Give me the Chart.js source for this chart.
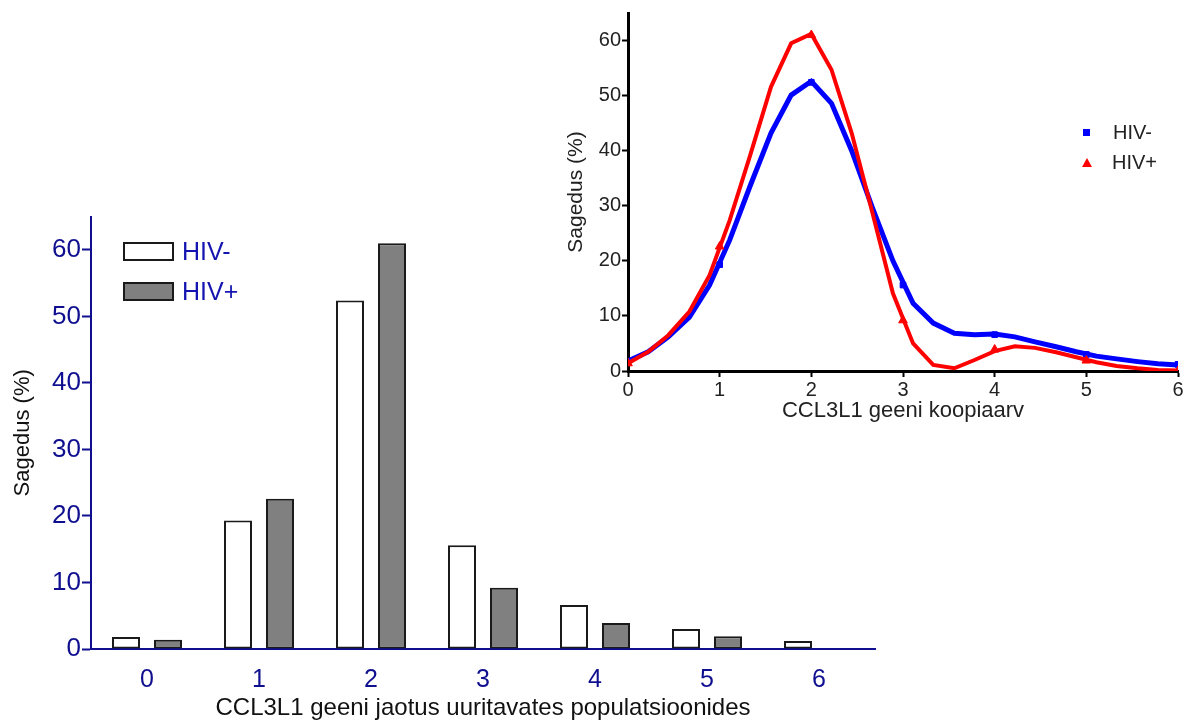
<!DOCTYPE html>
<html lang="et">
<head>
  <meta charset="UTF-8">
  <title>CCL3L1 geeni koopiaarv</title>
  <script src="https://cdn.jsdelivr.net/npm/chart.js"></script>
  <style>
    body { margin: 0; width: 1185px; height: 722px; background: #fff; position: relative; overflow: hidden;
           font-family: 'Liberation Sans', Arial, sans-serif; }
    .box { position: absolute; }
    #barBox { left: 0; top: 200px; width: 900px; height: 522px; }
    #lineBox { left: 540px; top: 0; width: 645px; height: 430px; }
    .leg { position: absolute; display: flex; align-items: center; }
    .barLeg .swatch { width: 47px; height: 15px; border: 2px solid #1a1a1a; margin-right: 8px; }
    .barLeg span { font-size: 25px; color: #1414b0; line-height: 1; }
    .lineLeg span { font-size: 20px; color: #222; line-height: 1; }
    .sq { width: 7px; height: 7px; margin-right: 23px; }
    .tri { width: 0; height: 0; border-left: 5px solid transparent; border-right: 5px solid transparent;
           border-bottom: 9px solid #ff0000; margin-right: 20px; }
  </style>
</head>
<body>
  <div class="box" id="barBox"><canvas id="barChart"></canvas></div>
  <div class="box" id="lineBox"><canvas id="lineChart"></canvas></div>
  <div class="leg barLeg" style="left:123px; top:239px;"><div class="swatch" style="background:#ffffff"></div><span id="lb0"></span></div>
  <div class="leg barLeg" style="left:123px; top:279px;"><div class="swatch" style="background:#808080"></div><span id="lb1"></span></div>
  <div class="leg lineLeg" style="left:1083px; top:123px; height:18px;"><div class="sq" style="background:#0000ff"></div><span id="ll0"></span></div>
  <div class="leg lineLeg" style="left:1082px; top:153px; height:18px;"><div class="tri"></div><span id="ll1"></span></div>

  <script>
    // main chart: distribution in studied populations
    const categories = ['0', '1', '2', '3', '4', '5', '6'];
    const seriesNames = ['HIV-', 'HIV+'];
    const hivNeg = [1.8, 19.3, 52.4, 15.6, 6.6, 3.0, 1.2];
    const hivPos = [1.4, 22.6, 61.0, 9.2, 3.9, 1.9, 0];

    // inset: smoothed curves
    const copyNumbers = [0, 1, 2, 3, 4, 5, 6];
    const curveX = [0, 0.22, 0.44, 0.67, 0.89, 1.11, 1.33, 1.56, 1.78, 2.0, 2.22, 2.44, 2.67, 2.89,
                    3.11, 3.33, 3.56, 3.78, 4.0, 4.22, 4.44, 4.67, 4.89, 5.11, 5.33, 5.56, 5.78, 6.0];
    const curveNeg = [1.8, 3.5, 6.2, 9.8, 15.6, 23.8, 33.5, 43.2, 50.1, 52.6, 48.6, 40.0, 29.5, 20.0,
                      12.3, 8.7, 6.85, 6.6, 6.7, 6.2, 5.3, 4.4, 3.5, 2.7, 2.2, 1.7, 1.3, 1.1];
    const curvePos = [1.4, 3.5, 6.5, 10.8, 17.4, 27.4, 39.0, 51.6, 59.5, 61.2, 54.7, 43.2, 28.5, 14.1,
                      5.0, 1.1, 0.5, 2.0, 3.6, 4.5, 4.2, 3.4, 2.5, 1.6, 0.9, 0.5, 0.2, 0.1];

    const navy = '#0f0f8f';
    const fontFam = "'Liberation Sans', Arial, sans-serif";

    document.getElementById('lb0').textContent = seriesNames[0];
    document.getElementById('lb1').textContent = seriesNames[1];
    document.getElementById('ll0').textContent = seriesNames[0];
    document.getElementById('ll1').textContent = seriesNames[1];

    new Chart(document.getElementById('barChart'), {
      type: 'bar',
      data: {
        labels: categories,
        datasets: [
          { label: seriesNames[0], data: hivNeg, backgroundColor: '#ffffff', borderColor: '#1a1a1a',
            borderWidth: 2, borderSkipped: false, categoryPercentage: 0.75, barPercentage: 0.667 },
          { label: seriesNames[1], data: hivPos, backgroundColor: '#808080', borderColor: '#1a1a1a',
            borderWidth: 2, borderSkipped: false, categoryPercentage: 0.75, barPercentage: 0.667 }
        ]
      },
      options: {
        responsive: true,
        maintainAspectRatio: false,
        animation: false,
        layout: { padding: { top: 15, right: 25, left: 0, bottom: 0 } },
        plugins: { legend: { display: false }, tooltip: { enabled: false } },
        scales: {
          x: {
            grid: { display: false },
            border: { color: navy, width: 2 },
            ticks: { color: navy, font: { family: fontFam, size: 25 }, padding: 8 },
            title: { display: true, text: 'CCL3L1 geeni jaotus uuritavates populatsioonides',
                     color: '#111', font: { family: fontFam, size: 24 }, padding: { top: 0, bottom: -1 } },
            afterFit: s => { s.height = 73; }
          },
          y: {
            min: 0, max: 65,
            grid: { drawOnChartArea: false, drawTicks: true, tickLength: 9, tickColor: navy, tickWidth: 2 },
            border: { color: navy, width: 2 },
            ticks: { stepSize: 10, includeBounds: false, color: navy, font: { family: fontFam, size: 26 }, padding: 1 },
            title: { display: true, text: 'Sagedus (%)', color: '#111', font: { family: fontFam, size: 22 },
                     padding: { top: 10, bottom: 0 } },
            afterFit: s => { s.width = 91; }
          }
        }
      }
    });

    const curvePts = (xs, ys) => xs.map((x, i) => ({ x: x, y: ys[i] }));
    const markPts = ys => copyNumbers.map((x, i) => ({ x: x, y: ys[i] }));

    new Chart(document.getElementById('lineChart'), {
      type: 'line',
      data: {
        datasets: [
          { label: seriesNames[1], data: markPts(hivPos), showLine: false, pointStyle: 'triangle',
            pointRadius: 5, backgroundColor: '#ff0000', borderColor: '#ff0000', borderWidth: 1 },
          { label: seriesNames[1], data: curvePts(curveX, curvePos), borderColor: '#ff0000',
            borderWidth: 4, pointRadius: 0, tension: 0 },
          { label: seriesNames[0], data: markPts(hivNeg), showLine: false, pointStyle: 'rect',
            pointRadius: 4, backgroundColor: '#0000ff', borderColor: '#0000ff', borderWidth: 1 },
          { label: seriesNames[0], data: curvePts(curveX, curveNeg), borderColor: '#0000ff',
            borderWidth: 5, pointRadius: 0, tension: 0 }
        ]
      },
      options: {
        responsive: true,
        maintainAspectRatio: false,
        animation: false,
        layout: { padding: { top: 13, right: 7, left: 0, bottom: 0 } },
        plugins: { legend: { display: false }, tooltip: { enabled: false } },
        scales: {
          x: {
            type: 'linear', min: 0, max: 6,
            grid: { drawOnChartArea: false, drawTicks: true, tickLength: 6, tickColor: '#000', tickWidth: 2 },
            border: { color: '#000', width: 3 },
            ticks: { stepSize: 1, color: '#222', font: { family: fontFam, size: 20 }, padding: 1 },
            title: { display: true, text: 'CCL3L1 geeni koopiaarv', color: '#222',
                     font: { family: fontFam, size: 22 }, padding: { top: 0, bottom: 6 } },
            afterFit: s => { s.height = 59; }
          },
          y: {
            min: 0, max: 65,
            grid: { drawOnChartArea: false, drawTicks: true, tickLength: 6, tickColor: '#000', tickWidth: 2 },
            border: { color: '#000', width: 3 },
            ticks: { stepSize: 10, includeBounds: false, color: '#222', font: { family: fontFam, size: 20 }, padding: 1 },
            title: { display: true, text: 'Sagedus (%)', color: '#222', font: { family: fontFam, size: 21 },
                     padding: { top: 24, bottom: 0 } },
            afterFit: s => { s.width = 88; }
          }
        }
      }
    });
  </script>
</body>
</html>
